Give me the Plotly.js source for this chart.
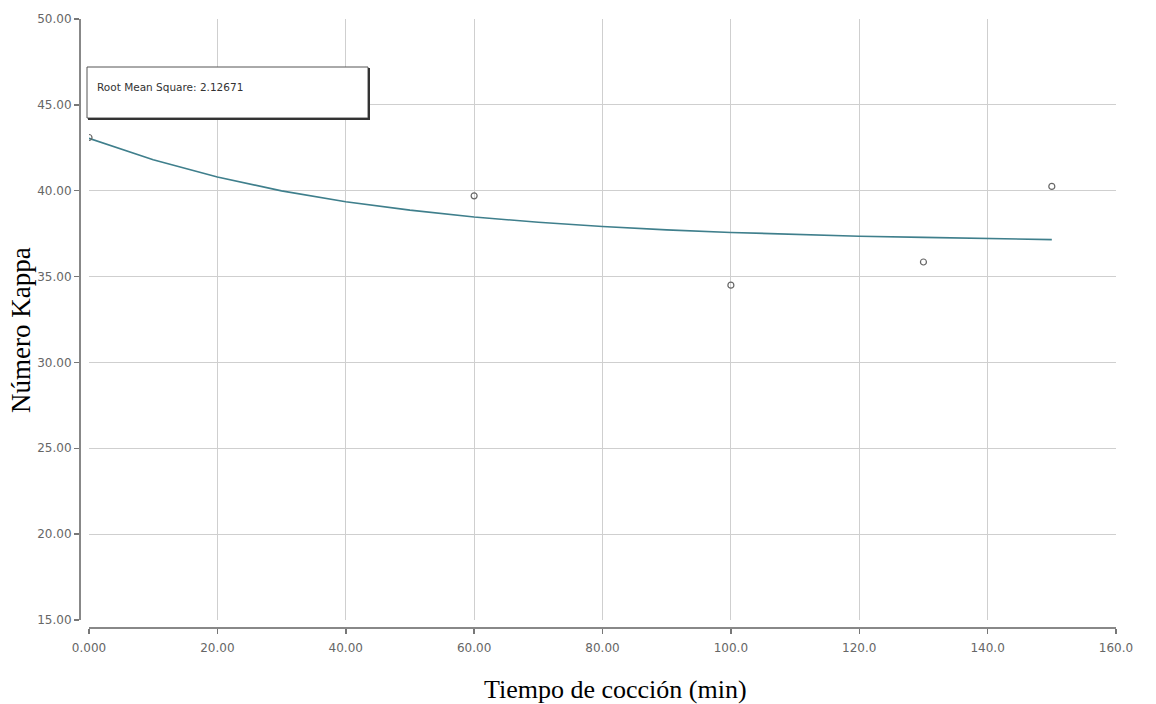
<!DOCTYPE html>
<html>
<head>
<meta charset="utf-8">
<script src="https://cdn.plot.ly/plotly-3.0.1.min.js"></script>
<style>html,body{margin:0;padding:0;background:#fff;}#chart{width:1156px;height:704px;}</style>
</head>
<body>
<div id="chart"></div>
<script>
// Observed data points
const tiempo = [0, 60, 100, 130, 150];
const kappa = [43.1, 39.7, 34.5, 35.85, 40.25];

// Fitted curve
const curveX = [0, 10, 20, 30, 40, 50, 60, 70, 80, 90, 100, 110, 120, 130, 140, 150];
const curveY = [43.05, 41.8, 40.8, 39.99, 39.36, 38.87, 38.47, 38.16, 37.92, 37.72, 37.57, 37.45, 37.35, 37.28, 37.2, 37.15];

const xTickVals = [0, 20, 40, 60, 80, 100, 120, 140, 160];
const xTickText = ['0.000', '20.00', '40.00', '60.00', '80.00', '100.0', '120.0', '140.0', '160.0'];
const yTickVals = [15, 20, 25, 30, 35, 40, 45, 50];
const yTickText = ['15.00', '20.00', '25.00', '30.00', '35.00', '40.00', '45.00', '50.00'];

const rmsText = 'Root Mean Square: 2.12671';
const xTitle = 'Tiempo de cocción (min)';
const yTitle = 'Número Kappa';

const W = 1156, H = 704;
const mL = 80, mR = 40, mT = 19, mB = 76;
const pw = W - mL - mR, ph = H - mT - mB;
const px = v => (v - mL) / pw;
const py = v => (H - mB - v) / ph;

const tickFont = {family: 'DejaVu Sans, Verdana, sans-serif', size: 12, color: '#666'};

const traces = [
  {x: curveX, y: curveY, type: 'scatter', mode: 'lines', line: {color: '#3f7f8c', width: 1.6}, xaxis: 'x', yaxis: 'y', hoverinfo: 'skip'},
  {x: tiempo, y: kappa, type: 'scatter', mode: 'markers', marker: {symbol: 'circle-open', size: 6, color: '#666', line: {width: 1.2, color: '#666'}}, xaxis: 'x', yaxis: 'y'},
  {x: [null], y: [null], type: 'scatter', mode: 'markers', xaxis: 'x2', yaxis: 'y2', showlegend: false, hoverinfo: 'skip'}
];

const layout = {
  width: W, height: H,
  margin: {l: mL, r: mR, t: mT, b: mB, pad: 0},
  paper_bgcolor: '#fff', plot_bgcolor: '#fff',
  showlegend: false,
  xaxis: {domain: [px(89), 1], range: [0, 160], tickvals: xTickVals, showticklabels: false, ticks: '',
          showgrid: true, gridcolor: '#cfcfcf', gridwidth: 1, zeroline: false, showline: false},
  yaxis: {domain: [py(620), 1], range: [15, 50], tickvals: yTickVals, showticklabels: false, ticks: '',
          showgrid: true, gridcolor: '#cfcfcf', gridwidth: 1, zeroline: false, showline: false},
  xaxis2: {overlaying: 'x', anchor: 'free', position: 0, range: [0, 160], tickvals: xTickVals, ticktext: xTickText,
           ticks: 'outside', ticklen: 5, tickwidth: 1.5, tickcolor: '#777', showline: true, linecolor: '#888', linewidth: 2,
           showgrid: false, zeroline: false, tickfont: tickFont, ticklabelstandoff: 4},
  yaxis2: {overlaying: 'y', anchor: 'free', position: 0, side: 'left', range: [15, 50], tickvals: yTickVals, ticktext: yTickText,
           ticks: 'outside', ticklen: 5, tickwidth: 1.5, tickcolor: '#777', showline: true, linecolor: '#888', linewidth: 2,
           showgrid: false, zeroline: false, tickfont: tickFont},
  shapes: [
    {type: 'rect', xref: 'paper', yref: 'paper', x0: px(87), x1: px(368), y0: py(118), y1: py(67),
     line: {color: '#555', width: 1}, fillcolor: '#fff', layer: 'above'},
    {type: 'line', xref: 'paper', yref: 'paper', x0: px(369), x1: px(369), y0: py(68), y1: py(119.5),
     line: {color: '#333', width: 2}, layer: 'above'},
    {type: 'line', xref: 'paper', yref: 'paper', x0: px(88), x1: px(370), y0: py(119), y1: py(119),
     line: {color: '#333', width: 2}, layer: 'above'}
  ],
  annotations: [
    {text: rmsText, xref: 'paper', yref: 'paper', x: px(95), y: py(87), xanchor: 'left', yanchor: 'middle',
     showarrow: false, font: {family: 'DejaVu Sans, Verdana, sans-serif', size: 10.5, color: '#333'}},
    {text: xTitle, xref: 'paper', yref: 'paper', x: px(615), y: py(689), xanchor: 'center', yanchor: 'middle',
     showarrow: false, font: {family: 'Liberation Serif, Times New Roman, serif', size: 26, color: '#000'}},
    {text: yTitle, xref: 'paper', yref: 'paper', x: px(21), y: py(330), xanchor: 'center', yanchor: 'middle', textangle: -90,
     showarrow: false, font: {family: 'Liberation Serif, Times New Roman, serif', size: 27, color: '#000'}}
  ]
};

Plotly.newPlot('chart', traces, layout, {displayModeBar: false, staticPlot: true});
</script>
</body>
</html>
